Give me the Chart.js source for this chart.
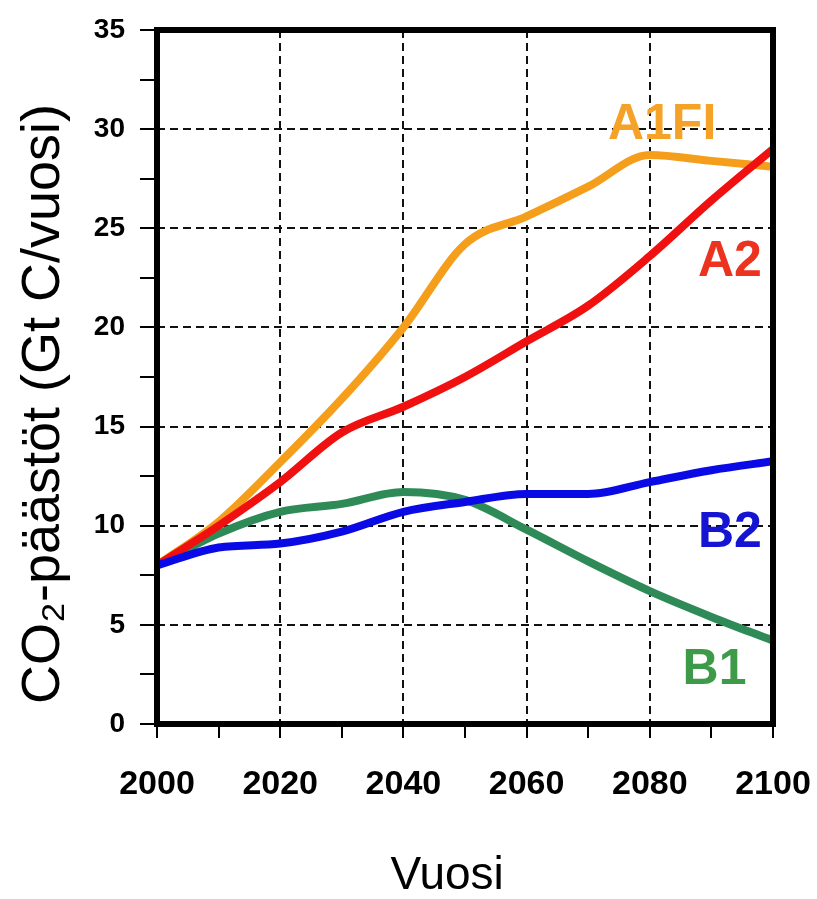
<!DOCTYPE html>
<html>
<head>
<meta charset="utf-8">
<script src="https://cdn.jsdelivr.net/npm/chart.js@4.4.0/dist/chart.umd.min.js"></script>
<style>
  html, body { margin: 0; background: #fff; overflow: hidden; }
  #wrap { width: 817px; height: 899px; }
</style>
</head>
<body>
<div id="wrap"><canvas id="co2Chart"></canvas></div>
<script>
// years on x axis
const years = [2000, 2010, 2020, 2030, 2040, 2050, 2060, 2070, 2080, 2090, 2100];

// CO2 emissions, Gt C / year
const a1fi = [8.0, 10.2, 13.2, 16.4, 20.0, 24.2, 25.6, 27.1, 28.7, 28.4, 28.1];
const a2   = [8.0, 10.0, 12.2, 14.7, 16.0, 17.5, 19.3, 21.1, 23.6, 26.4, 29.0];
const b1   = [8.0, 9.6, 10.7, 11.1, 11.7, 11.3, 9.8, 8.2, 6.7, 5.4, 4.2];
const b2   = [8.0, 8.9, 9.1, 9.7, 10.7, 11.2, 11.6, 11.6, 12.2, 12.8, 13.25];

const yTicks = [0, 5, 10, 15, 20, 25, 30, 35];
const xTicks = [2000, 2020, 2040, 2060, 2080, 2100];

// series name labels, anchored in data units
const seriesNames = ['A1FI', 'A2', 'B2', 'B1'];
const nameYears = [2082, 2093, 2093, 2090.5];
const nameValues = [30.2, 23.3, 9.6, 2.7];
const nameColors = ['#F5A328', '#EC3320', '#1414D2', '#3C9A48'];

const toPoints = vals => vals.map((v, i) => ({ x: years[i], y: v }));

document.addEventListener('DOMContentLoaded', () => {
    const ctx = document.getElementById('co2Chart').getContext('2d');

    const framePlugin = {
        id: 'frame',
        afterDraw(chart) {
            const { ctx, chartArea: a, scales } = chart;
            ctx.save();
            ctx.strokeStyle = '#000';
            ctx.lineWidth = 6;
            ctx.strokeRect(a.left, a.top, a.right - a.left, a.bottom - a.top);

            ctx.font = 'bold 50px Arial, "Liberation Sans", sans-serif';
            ctx.textAlign = 'center';
            ctx.textBaseline = 'middle';
            seriesNames.forEach((name, i) => {
                ctx.fillStyle = nameColors[i];
                ctx.fillText(name, scales.x.getPixelForValue(nameYears[i]), scales.y.getPixelForValue(nameValues[i]));
            });
            ctx.restore();
        }
    };

    new Chart(ctx, {
        type: 'line',
        data: {
            datasets: [
                { label: 'B2', data: toPoints(b2), borderColor: '#0A0AE6' },
                { label: 'A2', data: toPoints(a2), borderColor: '#F01010' },
                { label: 'B1', data: toPoints(b1), borderColor: '#2E8B57' },
                { label: 'A1FI', data: toPoints(a1fi), borderColor: '#F59E1B' }
            ]
        },
        options: {
            responsive: true,
            maintainAspectRatio: false,
            animation: false,
            layout: { padding: { left: 0, top: 30, right: 44, bottom: 0 } },
            elements: {
                line: { borderWidth: 8, cubicInterpolationMode: 'monotone', fill: false },
                point: { radius: 0 }
            },
            plugins: {
                legend: { display: false },
                tooltip: { enabled: false }
            },
            scales: {
                x: {
                    type: 'linear',
                    min: 2000,
                    max: 2100,
                    afterFit: s => {
                        s.height = 175;
                        s.paddingLeft = 0;
                        s.paddingRight = 0;
                    },
                    afterBuildTicks: s => { s.ticks = [2000, 2010, 2020, 2030, 2040, 2050, 2060, 2070, 2080, 2090, 2100].map(v => ({ value: v })); },
                    ticks: {
                        autoSkip: false,
                        maxRotation: 0,
                        padding: 26,
                        color: '#000',
                        font: { family: 'Arial, "Liberation Sans", sans-serif', size: 34, weight: 'bold' },
                        callback: v => xTicks.includes(v) ? String(v) : ''
                    },
                    grid: {
                        color: c => (c.tick && c.tick.value % 20 === 0 && c.tick.value > 2000 && c.tick.value < 2100) ? '#111' : 'rgba(0,0,0,0)',
                        lineWidth: 2,
                        tickColor: '#000',
                        tickWidth: 2,
                        tickLength: 14
                    },
                    border: { display: false, dash: [8, 5] },
                    title: {
                        display: true,
                        text: 'Vuosi\u2002 ',
                        color: '#000',
                        font: { family: 'Arial, "Liberation Sans", sans-serif', size: 46, lineHeight: 1 },
                        padding: { top: 0, bottom: 0 }
                    }
                },
                y: {
                    min: 0,
                    max: 35,
                    afterFit: s => {
                        s.width = 157;
                        s.paddingTop = 0;
                        s.paddingBottom = 0;
                    },
                    afterBuildTicks: s => { s.ticks = [0, 2.5, 5, 7.5, 10, 12.5, 15, 17.5, 20, 22.5, 25, 27.5, 30, 32.5, 35].map(v => ({ value: v })); },
                    ticks: {
                        autoSkip: false,
                        padding: 15,
                        color: '#000',
                        font: { family: 'Arial, "Liberation Sans", sans-serif', size: 28, weight: 'bold' },
                        callback: v => yTicks.includes(v) ? String(v) : ''
                    },
                    grid: {
                        color: c => (c.tick && c.tick.value % 5 === 0 && c.tick.value > 0 && c.tick.value < 35) ? '#111' : 'rgba(0,0,0,0)',
                        lineWidth: 2,
                        tickColor: '#000',
                        tickWidth: 2,
                        tickLength: 17
                    },
                    border: { display: false, dash: [8, 5] },
                    title: {
                        display: true,
                        text: 'CO₂-päästöt (Gt C/vuosi)\u2003',
                        color: '#000',
                        font: { family: 'Arial, "Liberation Sans", sans-serif', size: 54 },
                        padding: { top: 12, bottom: 0 }
                    }
                }
            }
        },
        plugins: [framePlugin]
    });
});
</script>
</body>
</html>
